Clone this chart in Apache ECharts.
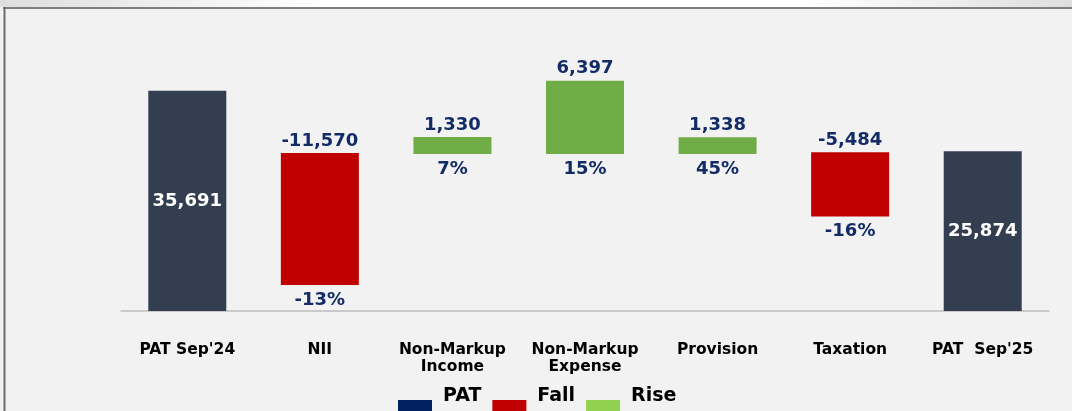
<!DOCTYPE html>
<html>
<head>
<meta charset="utf-8">
<script src="https://cdn.jsdelivr.net/npm/echarts@6/dist/echarts.min.js"></script>
<style>
html,body{margin:0;padding:0;background:#f2f2f2;}
#c{width:1072px;height:411px;}
</style>
</head>
<body>
<div id="c"></div>
<script>
// ---- data ----
const categories = ["PAT Sep'24", "NII", "Non-Markup\nIncome", "Non-Markup\nExpense", "Provision", "Taxation", "PAT  Sep'25"];
const valueLabels = ["35,691", "-11,570", "1,330", "6,397", "1,338", "-5,484", "25,874"];
const pctLabels = ["", "-13%", "7%", "15%", "45%", "-16%", ""];
const kinds = ["PAT", "Fall", "Rise", "Rise", "Rise", "Fall", "PAT"];
// bar bottom / top as drawn (chart units)
const barLow  = [0, 4200, 25450, 25450, 25450, 15300, 0];
const barHigh = [35691, 25600, 28200, 37300, 28150, 25700, 25874];

const barColors = { PAT: '#333F50', Fall: '#C00000', Rise: '#70AD47' };
const legendColors = { PAT: '#002060', Fall: '#C00000', Rise: '#92D050' };
const FONT = '"DejaVu Sans", sans-serif';
const NAVY = '#132c66';
// legend swatch: filled square in the lower part of a taller icon box
const LEGEND_ICON = 'path://M0,0 M40,0 M0,22 L34,22 L34,36 L0,36 Z';

function seriesFor(kind) {
  return {
    name: kind,
    type: 'bar',
    stack: 'w',
    barWidth: 78,
    itemStyle: { color: barColors[kind] },
    data: categories.map((c, i) => kinds[i] === kind ? barHigh[i] - barLow[i] : '-'),
    label: {
      show: true,
      position: kind === 'PAT' ? 'inside' : 'top',
      distance: 3,
      color: kind === 'PAT' ? '#ffffff' : NAVY,
      fontFamily: FONT, fontWeight: 'bold', fontSize: 18,
      formatter: p => valueLabels[p.dataIndex]
    }
  };
}

const chart = echarts.init(document.getElementById('c'), null, { renderer: 'canvas' });
chart.setOption({
  backgroundColor: '#f2f2f2',
  animation: false,
  graphic: [
    { type: 'rect', shape: { x: 0, y: 0, width: 1072, height: 7 }, silent: true,
      style: { fill: new echarts.graphic.LinearGradient(0, 0, 1, 0, [
        { offset: 0, color: '#dedede' }, { offset: 0.3, color: '#ffffff' },
        { offset: 0.75, color: '#ffffff' }, { offset: 1, color: '#dedede' }]) } },
    { type: 'line', shape: { x1: 3, y1: 8, x2: 1072, y2: 8 }, silent: true,
      style: { stroke: '#808080', lineWidth: 2 } },
    { type: 'line', shape: { x1: 4.5, y1: 7, x2: 4.5, y2: 411 }, silent: true,
      style: { stroke: '#6a6a6a', lineWidth: 2 } }
  ],
  grid: { left: 121, right: 23, top: 11, bottom: 100, containLabel: false, outerBoundsMode: 'none' },
  legend: {
    left: 398, top: 378, padding: 0, itemGap: 11,
    itemWidth: 40, itemHeight: 36,
    textStyle: { fontFamily: FONT, fontWeight: 'bold', fontSize: 19, color: '#000' },
    data: ['PAT', 'Fall', 'Rise'].map(k => ({ name: k, icon: LEGEND_ICON, itemStyle: { color: legendColors[k] } }))
  },
  xAxis: {
    type: 'category',
    data: categories,
    axisLine: { lineStyle: { color: '#bdbdbd', width: 1.5 } },
    axisTick: { length: 5, lineStyle: { color: '#bdbdbd', width: 1.5 } },
    axisLabel: { interval: 0, margin: 30, fontFamily: FONT, fontWeight: 'bold', fontSize: 15.5,
      lineHeight: 17, color: '#000' }
  },
  yAxis: { type: 'value', min: 0, max: 48600, show: false, splitLine: { show: false } },
  series: [
    {
      name: 'base', type: 'bar', stack: 'w', barWidth: 78,
      itemStyle: { color: 'rgba(0,0,0,0)' },
      emphasis: { disabled: true },
      data: barLow,
      label: {
        show: true, position: 'insideTop', distance: 6,
        color: NAVY, fontFamily: FONT, fontWeight: 'bold', fontSize: 18,
        formatter: p => pctLabels[p.dataIndex]
      }
    },
    seriesFor('PAT'),
    seriesFor('Fall'),
    seriesFor('Rise')
  ]
});
</script>
</body>
</html>
